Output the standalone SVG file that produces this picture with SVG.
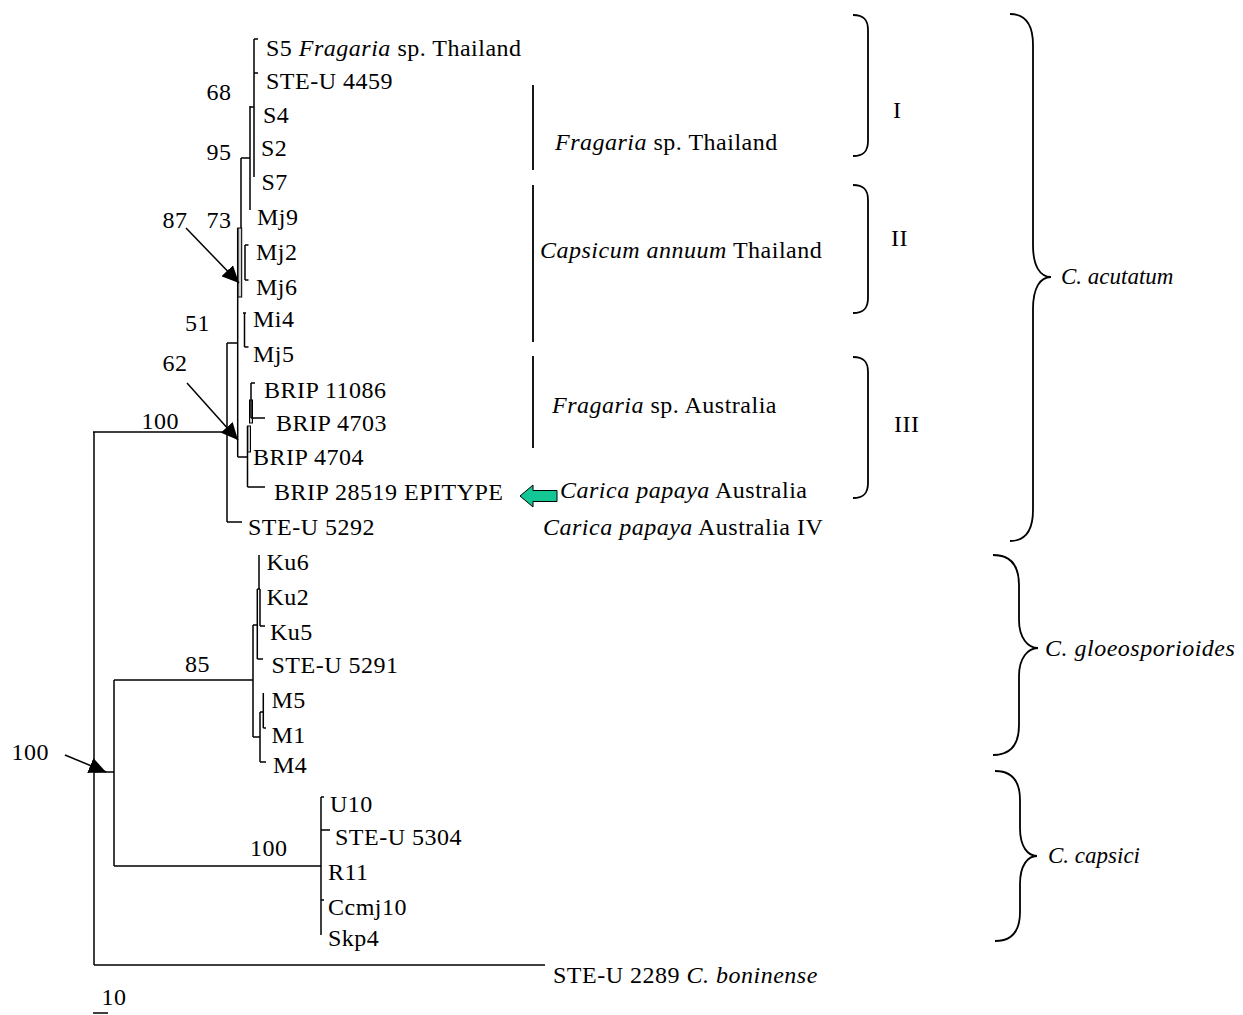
<svg xmlns="http://www.w3.org/2000/svg" width="1243" height="1015" viewBox="0 0 1243 1015">
<style>
text{font-family:"Liberation Serif","Times New Roman",serif;font-size:24px;fill:#000;letter-spacing:0.5px}
.i{font-style:italic}
.sm{font-size:23px;letter-spacing:0}
.ln{stroke:#000;stroke-width:1.5;fill:none}
.br{stroke:#000;stroke-width:1.8;fill:none}
.gr{fill:#cfcfcf;stroke:#000;stroke-width:1}
</style>
<defs>
<marker id="ah" markerUnits="userSpaceOnUse" markerWidth="20" markerHeight="16" refX="17" refY="8" orient="auto">
<path d="M0,0 L17,8 L0,16 z" fill="#000"/>
</marker>
</defs>
<rect width="1243" height="1015" fill="#fff"/>
<g id="connectors">
<path class="ln" d="M94,432 V965 M93,432 H228 M94,965 H545 M94,772 H114 M114,680 V866 M114,680 H253 M114,866 H321"/>
<path class="ln" d="M254,39 V177 M254,39 H258 M254,73 H258 M250,106 V210 M250,107 H254 M241,158 H250 M241,158 V297"/>
<rect class="gr" x="237.7" y="228" width="4" height="69"/>
<path class="ln" d="M237.7,228 V457 M245,245 V280 M245,245 H248.5 M245,280 H248.5 M243,313 H246 M244.5,313 V347 M244.5,347 H248.5 M227,343 H237.7 M227,343 V522 M227,522 H242 M237.7,457 H247.5"/>
<rect class="gr" x="249.5" y="400" width="3" height="23"/>
<rect class="gr" x="247.5" y="426" width="3" height="26"/>
<path class="ln" d="M247.5,426 V487 M247.5,487 H265 M251,383 V418 M251,383 H255 M251,418 H265"/>
<path class="ln" d="M253,625 V737 M253,625 H257.3 M257.3,589 V659 M257.3,659 H263 M257.3,589 H260 M259,555 V589 M260,589 V626 M260,626 H265 M253,737 H260 M260,712 V762 M260,762 H266 M260,712 H263.3 M263.3,693 V728 M263.3,728 H266"/>
<path class="ln" d="M321,797 V935 M321,797 H324 M321,830 H330 M321,900 H324"/>
<path class="ln" d="M93,1013 H108"/>
<path class="ln" d="M186,228 L239,283" marker-end="url(#ah)"/>
<path class="ln" d="M187,383 L238,440" marker-end="url(#ah)"/>
<path class="ln" d="M65,755 L106,772" marker-end="url(#ah)"/>
<path class="br" d="M533,85 V170 M533,185 V342 M533,356 V448"/>
<polygon points="520,496 533,485 533,490.5 557,490.5 557,501.5 533,501.5 533,507" fill="#13c795" stroke="#000" stroke-width="1"/>
<path class="br" d="M853,15 C864,15 868,20 868,30 V141 C868,151 864,156 853,156"/>
<path class="br" d="M853,185 C864,185 868,190 868,200 V298 C868,308 864,313 853,313"/>
<path class="br" d="M853,357 C864,357 868,362 868,372 V483 C868,493 864,498 853,498"/>
<path class="br" d="M1010,14 C1026,14 1033,25 1033,45 V245 C1033,266 1040,277 1051,277 C1040,277 1033,288 1033,309 V510 C1033,530 1026,541 1010,541"/>
<path class="br" d="M993,555 C1011,555 1019,566 1019,585 V620 C1019,638 1028,648 1038,648 C1028,648 1019,658 1019,676 V725 C1019,744 1011,755 993,755"/>
<path class="br" d="M995,771 C1012,771 1020,781 1020,800 V828 C1020,847 1028,856 1037,856 C1028,856 1020,865 1020,884 V912 C1020,931 1012,941 995,941"/>
</g>
<g id="taxa">
<g id="n-s5"><text x="266" y="56">S5 <tspan class="i">Fragaria</tspan> sp. Thailand</text></g>
<g id="n-steu4459"><text x="266" y="88.5">STE-U 4459</text></g>
<g id="n-s4"><text x="263" y="122.7">S4</text></g>
<g id="n-s2"><text x="261" y="156">S2</text></g>
<g id="n-s7"><text x="261.5" y="190">S7</text></g>
<g id="n-mj9"><text x="257" y="225">Mj9</text></g>
<g id="n-mj2"><text x="256" y="260">Mj2</text></g>
<g id="n-mj6"><text x="256" y="295">Mj6</text></g>
<g id="n-mi4"><text x="253" y="327">Mi4</text></g>
<g id="n-mj5"><text x="253" y="362">Mj5</text></g>
<g id="n-brip11086"><text x="264" y="398">BRIP 11086</text></g>
<g id="n-brip4703"><text x="276" y="431">BRIP 4703</text></g>
<g id="n-brip4704"><text x="253" y="465">BRIP 4704</text></g>
<g id="n-brip28519"><text x="274" y="500">BRIP 28519 EPITYPE</text></g>
<g id="n-steu5292"><text x="248" y="535">STE-U 5292</text></g>
<g id="n-ku6"><text x="266.5" y="570">Ku6</text></g>
<g id="n-ku2"><text x="266.5" y="605">Ku2</text></g>
<g id="n-ku5"><text x="270" y="640">Ku5</text></g>
<g id="n-steu5291"><text x="271.5" y="673">STE-U 5291</text></g>
<g id="n-m5"><text x="271.5" y="708">M5</text></g>
<g id="n-m1"><text x="271.5" y="742.5">M1</text></g>
<g id="n-m4"><text x="273" y="773">M4</text></g>
<g id="n-u10"><text x="330" y="811.5">U10</text></g>
<g id="n-steu5304"><text x="335" y="845">STE-U 5304</text></g>
<g id="n-r11"><text x="328" y="880">R11</text></g>
<g id="n-ccmj10"><text x="328" y="915">Ccmj10</text></g>
<g id="n-skp4"><text x="328" y="946">Skp4</text></g>
<g id="n-steu2289"><text x="553" y="983">STE-U 2289 <tspan class="i">C. boninense</tspan></text></g>
</g>
<g id="support">
<text x="206.5" y="100">68</text>
<text x="206.5" y="160">95</text>
<text x="162.5" y="228">87</text>
<text x="206.5" y="228">73</text>
<text x="185" y="331">51</text>
<text x="162.5" y="371">62</text>
<text x="141.5" y="429">100</text>
<text x="185" y="672">85</text>
<text x="11.5" y="760">100</text>
<text x="250" y="856">100</text>
<text x="101.5" y="1005">10</text>
</g>
<g id="groups">
<g id="g-frag-th"><text x="555" y="150"><tspan class="i">Fragaria</tspan> sp. Thailand</text></g>
<g id="g-caps-th"><text x="540" y="258"><tspan class="i">Capsicum annuum</tspan> Thailand</text></g>
<g id="g-frag-au"><text x="552" y="413"><tspan class="i">Fragaria</tspan> sp. Australia</text></g>
<g id="g-car-au"><text x="560" y="498"><tspan class="i">Carica papaya</tspan> Australia</text></g>
<g id="g-car-au4"><text x="543" y="535"><tspan class="i">Carica papaya</tspan> Australia IV</text></g>
<g id="g-I"><text x="893" y="118">I</text></g>
<g id="g-II"><text x="891" y="246">II</text></g>
<g id="g-III"><text x="894" y="432">III</text></g>
<g id="g-acut"><text class="i sm" x="1061" y="284">C. acutatum</text></g>
<g id="g-gloeo"><text class="i" x="1045" y="656">C. gloeosporioides</text></g>
<g id="g-caps"><text class="i sm" x="1048" y="863">C. capsici</text></g>
</g>
</svg>
